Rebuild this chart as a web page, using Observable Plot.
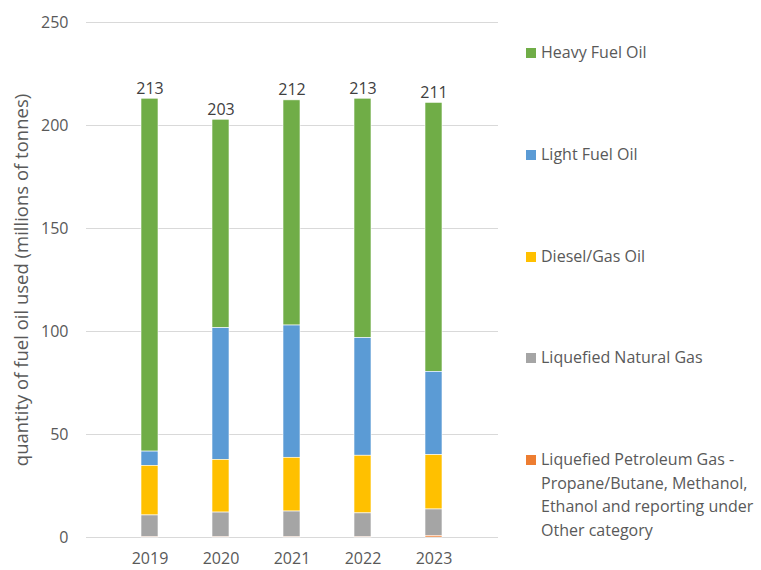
<!DOCTYPE html>
<html>
<head>
<meta charset="utf-8">
<script src="https://cdn.jsdelivr.net/npm/d3@7"></script>
<script src="https://cdn.jsdelivr.net/npm/@observablehq/plot@0.6"></script>
<style>
  html, body { margin: 0; padding: 0; background: #fff; }
  #wrap { position: relative; width: 761px; height: 570px; font-family: "Open Sans", sans-serif; }
  #legend { position: absolute; left: 526px; top: 0; width: 235px; }
  .item { position: absolute; left: 0; display: flex; align-items: flex-start; font-size: 16px; color: #595959; line-height: 23.5px; white-space: pre-line; }
  .sw { width: 10px; height: 10px; margin-top: 7px; margin-right: 5px; flex: none; }
</style>
</head>
<body>
<div id="wrap"><div id="chart"></div><div id="legend"></div></div>
<script>
const years = ["2019", "2020", "2021", "2022", "2023"];
const fuels = [
  "Heavy Fuel Oil",
  "Light Fuel Oil",
  "Diesel/Gas Oil",
  "Liquefied Natural Gas",
  "Liquefied Petroleum Gas - Propane/Butane, Methanol, Ethanol and reporting under Other category"
];
const legendLabels = [
  "Heavy Fuel Oil",
  "Light Fuel Oil",
  "Diesel/Gas Oil",
  "Liquefied Natural Gas",
  "Liquefied Petroleum Gas -\nPropane/Butane, Methanol,\nEthanol and reporting under\nOther category"
];
const colors = ["#70AD47", "#5B9BD5", "#FFC000", "#A5A5A5", "#ED7D31"];
const heavyFuelOil = [171.3, 101.2, 109.3, 116.2, 130.6];
const lightFuelOil = [6.9, 63.9, 64.2, 57.1, 40.4];
const dieselGasOil = [24.1, 25.6, 26.1, 28.0, 26.4];
const lng = [10.6, 12.0, 12.5, 11.6, 12.8];
const lpgOther = [0.1, 0.1, 0.1, 0.1, 0.8];
const yTicks = [0, 50, 100, 150, 200, 250];

const seriesValues = [heavyFuelOil, lightFuelOil, dieselGasOil, lng, lpgOther];
const rows = [];
fuels.forEach((f, i) => years.forEach((y, j) => rows.push({year: y, fuel: f, value: seriesValues[i][j]})));
const totals = years.map((y, j) => ({year: y, total: d3.sum(seriesValues, s => s[j])}));
const stackOrder = fuels.slice().reverse();

const chart = Plot.plot({
  width: 761,
  height: 570,
  marginLeft: 86,
  marginRight: 263,
  marginTop: 22,
  marginBottom: 33,
  style: {fontFamily: "Open Sans, sans-serif", fontSize: "16px", color: "#595959", background: "#fff"},
  x: {domain: years, padding: 0.76, label: null},
  y: {domain: [0, 250], ticks: yTicks, label: "quantity of fuel oil used (millions of tonnes)"},
  color: {domain: fuels, range: colors},
  marks: [
    Plot.ruleY(yTicks, {stroke: "#D9D9D9", strokeWidth: 1.2}),
    Plot.barY(rows, Plot.stackY({order: stackOrder}, {x: "year", y: "value", fill: "fuel", stroke: "#fff", strokeWidth: 0.6})),
    Plot.text(totals, {x: "year", y: "total", text: d => d3.format(".0f")(d.total), dy: -10, fill: "#404040", fontSize: 16}),
    Plot.axisY({ticks: yTicks, tickSize: 0, tickPadding: 18, fontSize: 16, label: "quantity of fuel oil used (millions of tonnes)", labelAnchor: "center", labelOffset: 72, labelArrow: "none"}),
    Plot.axisX({tickSize: 0, tickPadding: 15, fontSize: 16, label: null})
  ]
});
document.getElementById("chart").appendChild(chart);
const yl = chart.querySelector("[aria-label='y-axis label']");
if (yl) { yl.setAttribute("font-size", "18.5"); yl.querySelectorAll("text").forEach(t => t.setAttribute("font-size", "18.5")); }

const legendTops = [41, 143, 245, 346, 448];
const legend = document.getElementById("legend");
legendLabels.forEach((lab, i) => {
  const it = document.createElement("div");
  it.className = "item";
  it.style.top = legendTops[i] + "px";
  const sw = document.createElement("span");
  sw.className = "sw";
  sw.style.background = colors[i];
  const tx = document.createElement("span");
  tx.textContent = lab;
  it.appendChild(sw); it.appendChild(tx);
  legend.appendChild(it);
});
</script>
</body>
</html>
